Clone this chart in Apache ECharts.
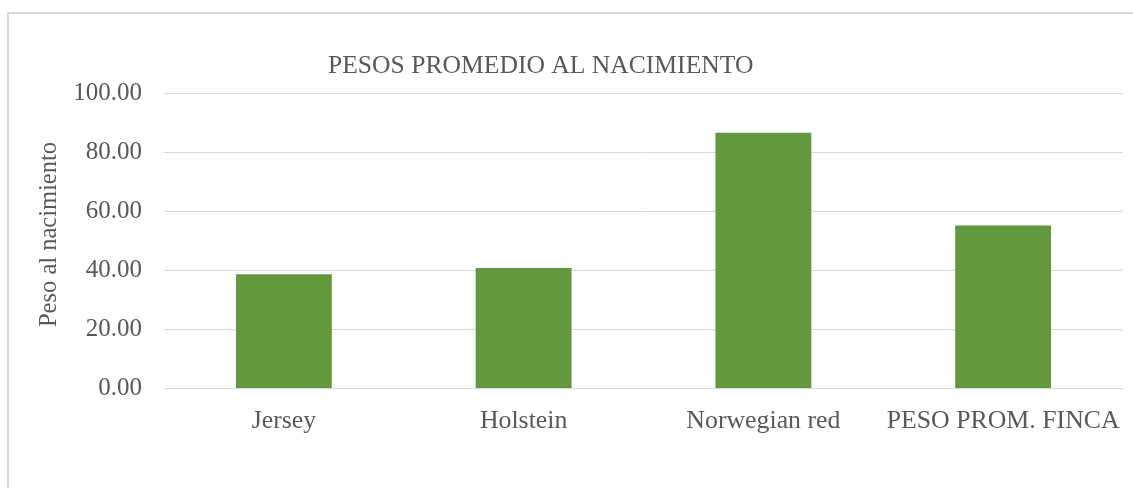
<!DOCTYPE html>
<html>
<head>
<meta charset="utf-8">
<script src="https://cdn.jsdelivr.net/npm/echarts@6/dist/echarts.min.js"></script>
<style>
  html, body { margin: 0; padding: 0; background: #fff; }
  #chart { width: 1133px; height: 488px; }
</style>
</head>
<body>
<div id="chart"></div>
<script>
// categories and averages
var categories = ['Jersey', 'Holstein', 'Norwegian red', 'PESO PROM. FINCA'];
var pesos = [38.6, 40.7, 86.5, 55.1];
var yTicks = [0, 20, 40, 60, 80, 100];

var font = '"Liberation Serif", "Times New Roman", serif';
var textColor = '#595959';

var chart = echarts.init(document.getElementById('chart'));
chart.setOption({
  animation: false,
  textStyle: { fontFamily: font },
  // outer chart border (only top and left visible in the picture)
  graphic: [{
    type: 'rect',
    shape: { x: 8, y: 13, width: 1140, height: 500 },
    style: { fill: 'none', stroke: '#d9d9d9', lineWidth: 2 },
    silent: true
  }],
  title: {
    text: 'PESOS PROMEDIO AL NACIMIENTO',
    left: 323,
    top: 48,
    textStyle: { fontFamily: font, fontSize: 25.6, fontWeight: 'normal', color: textColor }
  },
  grid: { left: 164, right: 10, top: 93, bottom: 100, containLabel: false },
  xAxis: {
    type: 'category',
    data: categories,
    axisLine: { show: true, lineStyle: { color: '#d9d9d9', width: 1 } },
    axisTick: { show: false },
    axisLabel: { color: textColor, fontFamily: font, fontSize: 25.8, margin: 20, interval: 0 }
  },
  yAxis: {
    type: 'value',
    min: yTicks[0],
    max: yTicks[yTicks.length - 1],
    interval: 20,
    name: 'Peso al nacimiento',
    nameLocation: 'middle',
    nameGap: 102,
    nameTextStyle: { color: textColor, fontFamily: font, fontSize: 24.5, padding: [0, 0, 0, 12] },
    axisLine: { show: false },
    axisTick: { show: false },
    axisLabel: {
      color: textColor, fontFamily: font, fontSize: 25, margin: 22,
      formatter: function (v) { return v.toFixed(2); }
    },
    splitLine: { lineStyle: { color: '#d9d9d9', width: 1 } }
  },
  series: [{
    type: 'bar',
    data: pesos,
    barWidth: '40%',
    itemStyle: { color: '#62993e' }
  }]
});
</script>
</body>
</html>
